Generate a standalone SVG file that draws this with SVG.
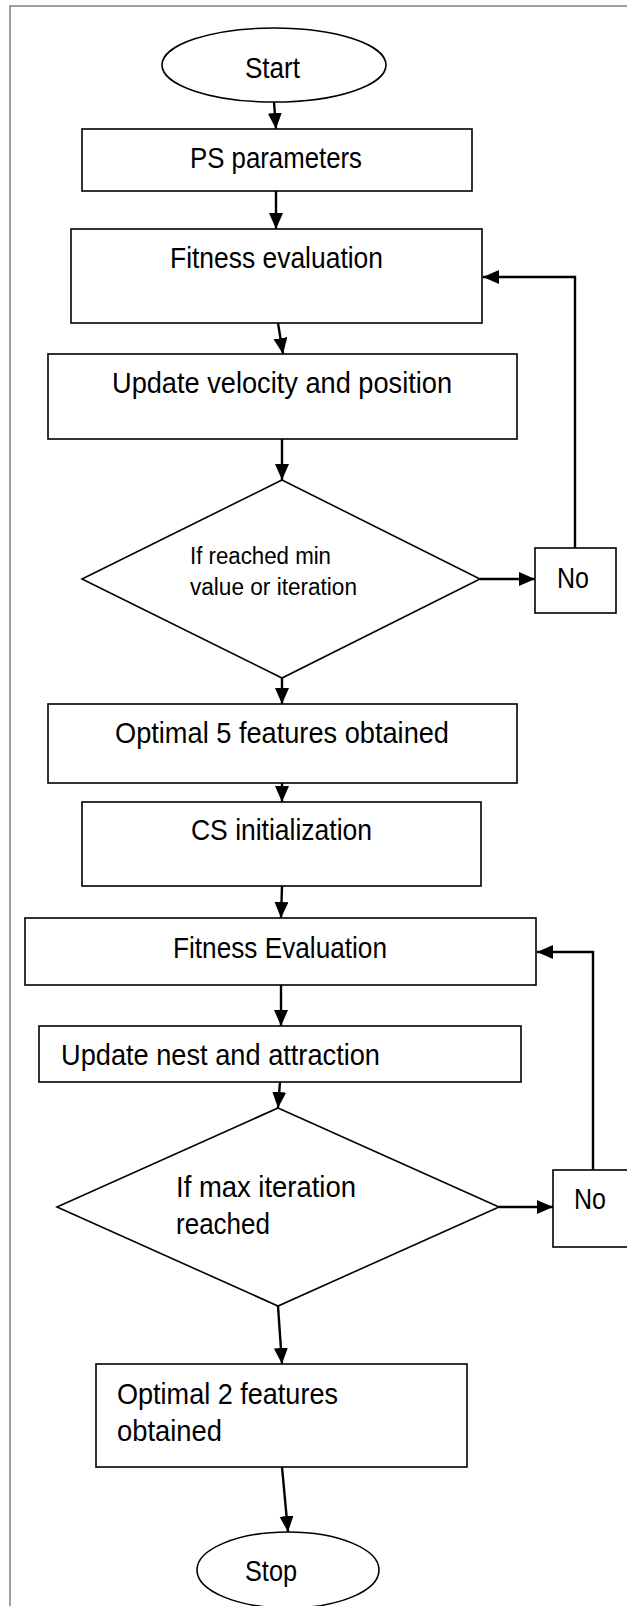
<svg xmlns="http://www.w3.org/2000/svg" width="627" height="1606" viewBox="0 0 627 1606">
<style>
.b{fill:#fff;stroke:#000;stroke-width:1.6}
.t{font-family:"Liberation Sans",Arial,sans-serif;font-size:30px;fill:#000}
.s{font-family:"Liberation Sans",Arial,sans-serif;font-size:23px;fill:#000}
.c{fill:none;stroke:#000;stroke-width:2.4}
</style>
<defs>
<marker id="ah" markerUnits="userSpaceOnUse" markerWidth="17" markerHeight="15" refX="16" refY="7" orient="auto">
<path d="M0,0 L16,7 L0,14 z" fill="#000"/>
</marker>
</defs>
<rect width="627" height="1606" fill="#fff"/>
<path d="M10,1606 V6 H627" fill="none" stroke="#808080" stroke-width="1.5"/>
<g id="connectors">
<line class="c" x1="274" y1="102" x2="276" y2="129" marker-end="url(#ah)"/>
<line class="c" x1="276" y1="191" x2="276" y2="229" marker-end="url(#ah)"/>
<line class="c" x1="278" y1="323" x2="283" y2="354" marker-end="url(#ah)"/>
<line class="c" x1="282" y1="439" x2="282" y2="480" marker-end="url(#ah)"/>
<line class="c" x1="480" y1="579" x2="535" y2="579" marker-end="url(#ah)"/>
<polyline class="c" points="575,548 575,277 483,277" marker-end="url(#ah)"/>
<line class="c" x1="282" y1="678" x2="282" y2="704" marker-end="url(#ah)"/>
<line class="c" x1="282" y1="783" x2="282" y2="802" marker-end="url(#ah)"/>
<line class="c" x1="282" y1="886" x2="281" y2="918" marker-end="url(#ah)"/>
<line class="c" x1="281" y1="985" x2="281" y2="1026" marker-end="url(#ah)"/>
<line class="c" x1="280" y1="1082" x2="278" y2="1108" marker-end="url(#ah)"/>
<line class="c" x1="499" y1="1207" x2="553" y2="1207" marker-end="url(#ah)"/>
<polyline class="c" points="593,1170 593,952 537,952" marker-end="url(#ah)"/>
<line class="c" x1="278" y1="1306" x2="282" y2="1364" marker-end="url(#ah)"/>
<line class="c" x1="282" y1="1467" x2="288" y2="1532" marker-end="url(#ah)"/>
</g>
<g id="start">
<ellipse class="b" cx="274" cy="65" rx="112" ry="37"/>
<text class="t" x="245" y="78" textLength="55" lengthAdjust="spacingAndGlyphs">Start</text>
</g>
<g id="ps-parameters">
<rect class="b" x="82" y="129" width="390" height="62"/>
<text class="t" x="190" y="168" textLength="172" lengthAdjust="spacingAndGlyphs">PS parameters</text>
</g>
<g id="fitness-evaluation-1">
<rect class="b" x="71" y="229" width="411" height="94"/>
<text class="t" x="170" y="268" textLength="213" lengthAdjust="spacingAndGlyphs">Fitness evaluation</text>
</g>
<g id="update-velocity">
<rect class="b" x="48" y="354" width="469" height="85"/>
<text class="t" x="112" y="393" textLength="340" lengthAdjust="spacingAndGlyphs">Update velocity and position</text>
</g>
<g id="decision-1">
<polygon class="b" points="282,480 480,579 282,678 82,579"/>
<text class="s" x="190" y="564" textLength="141" lengthAdjust="spacingAndGlyphs">If reached min</text>
<text class="s" x="190" y="595" textLength="167" lengthAdjust="spacingAndGlyphs">value or iteration</text>
</g>
<g id="no-1">
<rect class="b" x="535" y="548" width="81" height="65"/>
<text class="t" x="557" y="588" textLength="32" lengthAdjust="spacingAndGlyphs">No</text>
</g>
<g id="optimal-5">
<rect class="b" x="48" y="704" width="469" height="79"/>
<text class="t" x="115" y="743" textLength="334" lengthAdjust="spacingAndGlyphs">Optimal 5 features obtained</text>
</g>
<g id="cs-initialization">
<rect class="b" x="82" y="802" width="399" height="84"/>
<text class="t" x="191" y="840" textLength="181" lengthAdjust="spacingAndGlyphs">CS initialization</text>
</g>
<g id="fitness-evaluation-2">
<rect class="b" x="25" y="918" width="511" height="67"/>
<text class="t" x="173" y="958" textLength="214" lengthAdjust="spacingAndGlyphs">Fitness Evaluation</text>
</g>
<g id="update-nest">
<rect class="b" x="39" y="1026" width="482" height="56"/>
<text class="t" x="61" y="1065" textLength="319" lengthAdjust="spacingAndGlyphs">Update nest and attraction</text>
</g>
<g id="decision-2">
<polygon class="b" points="278,1108 499,1207 278,1306 57,1207"/>
<text class="t" x="176" y="1197" textLength="180" lengthAdjust="spacingAndGlyphs">If max iteration</text>
<text class="t" x="176" y="1234" textLength="94" lengthAdjust="spacingAndGlyphs">reached</text>
</g>
<g id="no-2">
<rect class="b" x="553" y="1170" width="80" height="77"/>
<text class="t" x="574" y="1209" textLength="32" lengthAdjust="spacingAndGlyphs">No</text>
</g>
<g id="optimal-2">
<rect class="b" x="96" y="1364" width="371" height="103"/>
<text class="t" x="117" y="1404" textLength="221" lengthAdjust="spacingAndGlyphs">Optimal 2 features</text>
<text class="t" x="117" y="1441" textLength="105" lengthAdjust="spacingAndGlyphs">obtained</text>
</g>
<g id="stop">
<ellipse class="b" cx="288" cy="1570" rx="91" ry="38"/>
<text class="t" x="245" y="1581" textLength="52" lengthAdjust="spacingAndGlyphs">Stop</text>
</g>
</svg>
